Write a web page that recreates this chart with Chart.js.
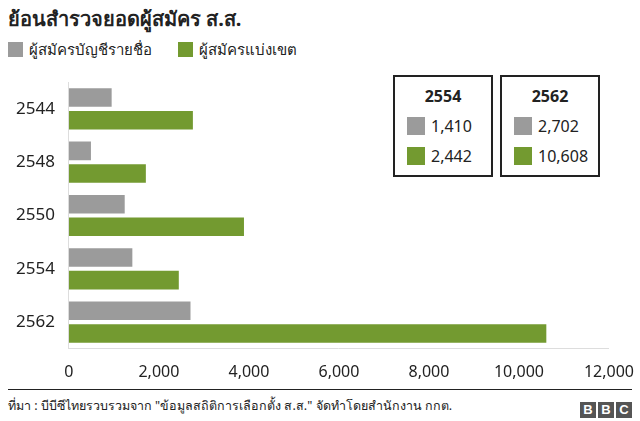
<!DOCTYPE html>
<html>
<head>
<meta charset="utf-8">
<script src="https://cdn.jsdelivr.net/npm/chart.js@4"></script>
<style>
  body { margin: 0; width: 640px; height: 421px; background: #fff; font-family: "Noto Sans", sans-serif; position: relative; overflow: hidden; }
  #title { position: absolute; left: 8px; top: 3px; font-size: 20px; font-weight: bold; color: #222; }
  #legend { position: absolute; left: 8px; top: 38px; font-size: 15px; color: #222; }
  #legend span.sw { display: inline-block; width: 15px; height: 15px; vertical-align: -2px; margin-right: 6px; }
  #wrap { position: absolute; left: 0; top: 66px; width: 640px; height: 322px; }
  .box { position: absolute; top: 75px; width: 100px; height: 102px; border: 2px solid #222; box-sizing: border-box; font-size: 16px; color: #222; background: #fff; }
  .box .h { text-align: center; font-weight: bold; margin-top: 8px; }
  .box .r { margin: 8px 0 0 12px; }
  .box .r span { display: inline-block; width: 18px; height: 18px; vertical-align: -3px; margin-right: 6px; }
  #foot { position: absolute; left: 8px; right: 8px; top: 389px; border-top: 1px solid #222; font-size: 12.5px; color: #222; padding-top: 6px; }
  #bbc { position: absolute; right: 8px; top: 397px; }
  #bbc span { display: inline-block; width: 16px; height: 16px; background: #555; color: #fff; font: bold 13px "Liberation Sans", sans-serif; text-align: center; line-height: 16px; margin-left: 2px; }
</style>
</head>
<body>
<div id="title">ย้อนสำรวจยอดผู้สมัคร ส.ส.</div>
<div id="legend"><span class="sw" style="background:#9b9b9b"></span>ผู้สมัครบัญชีรายชื่อ<span class="sw" style="background:#739a30;margin-left:26px"></span>ผู้สมัครแบ่งเขต</div>
<div id="wrap"><canvas id="myChart" width="640" height="322"></canvas></div>
<div class="box" style="left:393px"><div class="h">2554</div><div class="r"><span style="background:#9b9b9b"></span>1,410</div><div class="r"><span style="background:#739a30"></span>2,442</div></div>
<div class="box" style="left:500px"><div class="h">2562</div><div class="r"><span style="background:#9b9b9b"></span>2,702</div><div class="r"><span style="background:#739a30"></span>10,608</div></div>
<div id="foot">ที่มา : บีบีซีไทยรวบรวมจาก "ข้อมูลสถิติการเลือกตั้ง ส.ส." จัดทำโดยสำนักงาน กกต.</div>
<div id="bbc"><span>B</span><span>B</span><span>C</span></div>
<script>
const years = ['2544', '2548', '2550', '2554', '2562']
const partyList = [950, 490, 1240, 1410, 2702]
const constituency = [2755, 1710, 3890, 2442, 10608]
const tickValues = [0, 2000, 4000, 6000, 8000, 10000, 12000]

const ctx = document.getElementById('myChart').getContext('2d')
new Chart(ctx, {
  type: 'bar',
  data: {
    labels: years,
    datasets: [
      { label: 'ผู้สมัครบัญชีรายชื่อ', data: partyList, backgroundColor: '#9b9b9b', barPercentage: 0.82, categoryPercentage: 0.85 },
      { label: 'ผู้สมัครแบ่งเขต', data: constituency, backgroundColor: '#739a30', barPercentage: 0.82, categoryPercentage: 0.85 }
    ]
  },
  options: {
    indexAxis: 'y',
    responsive: false,
    animation: false,
    layout: { padding: { left: 10, right: 14, top: 7, bottom: 0 } },
    plugins: { legend: { display: false }, tooltip: { enabled: false } },
    scales: {
      x: {
        min: 0, max: 12000,
        afterBuildTicks: (axis) => { axis.ticks = tickValues.map(v => ({ value: v })) },
        grid: { display: false },
        border: { color: '#ddd' },
        ticks: { color: '#222', font: { size: 16, family: 'Noto Sans' }, padding: 6, maxRotation: 0, autoSkip: false,
          callback: (v) => v.toLocaleString('en-US') }
      },
      y: {
        grid: { display: false },
        border: { color: '#ddd' },
        ticks: { color: '#222', font: { size: 17, family: 'Noto Sans' }, padding: 6, autoSkip: false }
      }
    }
  }
})
</script>
</body>
</html>
